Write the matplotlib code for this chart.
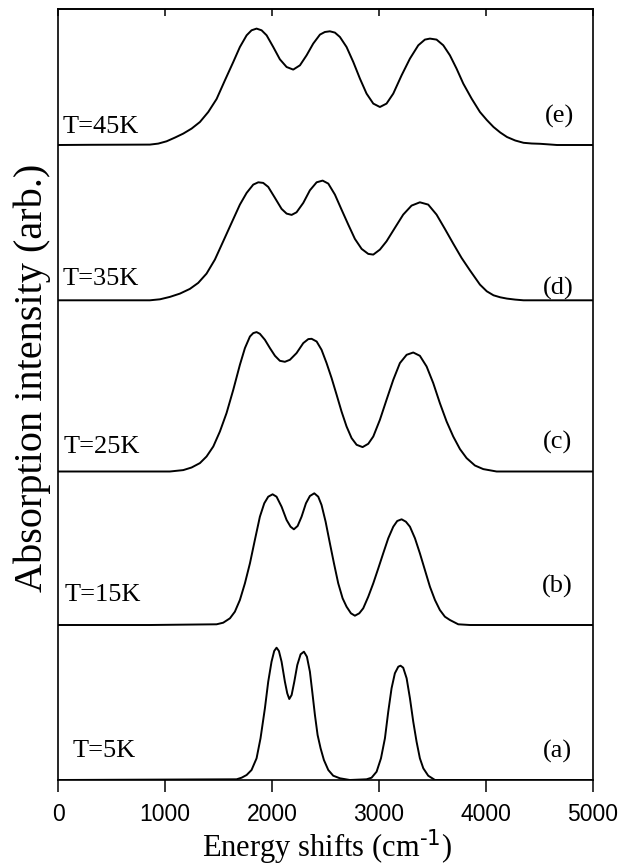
import matplotlib
matplotlib.use("Agg")
import matplotlib.pyplot as plt

# ---- data (x: cm^-1, y: arbitrary intensity) ----
x_a = [0, 1669, 1716, 1763, 1809, 1856, 1893, 1934, 1965, 1996, 2021, 2043, 2065,
       2090, 2121, 2143, 2162, 2184, 2209, 2237, 2268, 2299, 2327, 2355, 2377,
       2402, 2427, 2455, 2486, 2527, 2573, 2636, 2729, 2885, 2932, 2979, 3020,
       3057, 3088, 3119, 3150, 3182, 3203, 3228, 3260, 3291, 3322, 3353, 3384,
       3416, 3462, 3525, 5000]
y_a = [0, 0.7, 2.3, 5, 10, 21.7, 41.7, 71.7, 98.3, 118.3, 129, 132.3, 129,
       118.3, 98.3, 86.7, 81, 85, 98.3, 115, 125.7, 128.3, 123.3, 108.3, 88.3,
       65, 45, 31.7, 20, 10, 4.3, 1.7, 0, 0.7, 2.3, 8.3, 21.7,
       41.7, 68.3, 91.7, 106.7, 113.3, 114.3, 112.3, 101.7, 81.7, 58.3, 38.3, 21.7,
       11.7, 4.3, 0, 0]

x_b = [0, 858, 1482, 1544, 1607, 1653, 1700, 1747, 1794, 1840, 1887, 1928, 1965,
       2006, 2043, 2090, 2137, 2174, 2205, 2240, 2277, 2318, 2355, 2396, 2433,
       2464, 2502, 2542, 2580, 2620, 2661, 2698, 2739, 2776, 2817, 2854, 2901,
       2948, 2995, 3041, 3088, 3135, 3172, 3213, 3253, 3291, 3338, 3384, 3431,
       3478, 3525, 3571, 3618, 3665, 3743, 3852, 5000]
y_b = [0, 0, 0.7, 2.3, 6.7, 13.3, 25, 41.7, 61.7, 85, 108.3, 121.7, 128.3,
       130.7, 128.3, 118.3, 105, 98.3, 95.7, 99, 108.3, 121.7, 129, 131.7, 128.3,
       120, 103.3, 81.7, 61.7, 41.7, 26.7, 18.3, 11.7, 9.3, 11.7, 16.7, 28.3,
       41.7, 56.7, 71.7, 86.7, 98.3, 104, 105.7, 103.3, 98.3, 86.7, 71.7, 55,
       38.3, 25, 15, 8.3, 5, 0.7, 0, 0]

x_c = [0, 858, 1045, 1170, 1248, 1326, 1388, 1451, 1513, 1575, 1638, 1700, 1747,
       1794, 1825, 1856, 1887, 1934, 1981, 2028, 2074, 2121, 2168, 2230, 2293,
       2340, 2371, 2418, 2464, 2511, 2558, 2605, 2651, 2698, 2745, 2792, 2848,
       2901, 2948, 3010, 3072, 3135, 3197, 3260, 3322, 3384, 3447, 3509, 3571,
       3634, 3696, 3759, 3821, 3899, 3977, 4102, 5000]
y_c = [0, 0, 0, 1.4, 4, 8.4, 15, 25, 40, 58.4, 81.7, 106.7, 123.4,
       135, 138.4, 139.4, 137.7, 131.7, 123.4, 115.7, 110.7, 109.7, 111.7, 118.4, 128.4,
       132.4, 132.7, 130, 121.7, 108.4, 93.4, 76.7, 60, 45, 33.4, 26.7, 24.4,
       27.7, 35, 51.7, 71.7, 91.7, 108.4, 116.7, 119, 115.7, 105, 88.4, 68.4,
       50, 35, 22.4, 13.4, 6, 2.4, 0, 0]

x_d = [0, 858, 952, 1045, 1139, 1232, 1310, 1388, 1466, 1544, 1622, 1700, 1763,
       1825, 1872, 1918, 1965, 2028, 2090, 2137, 2184, 2230, 2293, 2355, 2418,
       2474, 2527, 2589, 2651, 2714, 2776, 2839, 2901, 2948, 3010, 3072, 3150,
       3228, 3306, 3384, 3462, 3540, 3618, 3696, 3774, 3852, 3946, 4010, 4073,
       4136, 4199, 4276, 4354, 5000]
y_d = [0, 0, 1, 3.4, 6.7, 11.4, 17.4, 26.7, 40.7, 59, 77.4, 95.7, 107.4,
       115.7, 118, 117.4, 113.4, 102.4, 91.4, 86.7, 85.4, 88, 97.4, 110, 118,
       119.7, 116.7, 105.7, 90.7, 75.7, 61.4, 51.4, 46.4, 45.7, 50.7, 59, 72.4,
       85.7, 94.7, 98, 95.7, 85.7, 71.4, 56.7, 42.4, 30, 15.7, 9, 5,
       3, 1.7, 0.7, 0, 0]

x_e = [0, 300, 600, 858, 936, 1014, 1092, 1170, 1248, 1326, 1404, 1482, 1560,
       1638, 1700, 1763, 1809, 1856, 1903, 1950, 2012, 2074, 2137, 2199, 2262,
       2324, 2386, 2449, 2495, 2542, 2589, 2636, 2698, 2761, 2823, 2885, 2948,
       3010, 3072, 3135, 3213, 3291, 3369, 3431, 3478, 3540, 3603, 3665, 3727,
       3790, 3868, 3946, 4010, 4073, 4136, 4199, 4276, 4354, 4430, 4510, 4590,
       4666, 5000]
y_e = [0, 0.2, 0.3, 0.4, 1.4, 3.7, 7.4, 11.4, 16.4, 23, 33, 46, 64.7,
       83, 98, 109.7, 114.7, 116.4, 114.7, 109.7, 98, 85.7, 78, 75.4, 79.7,
       89.7, 101.4, 110.4, 113, 113.7, 112.4, 108, 98, 83, 66.4, 51.4, 41.4,
       38, 41.4, 51.4, 69.7, 86.4, 99.7, 105.4, 106.4, 105.4, 99.7, 89.7, 76.4,
       61.4, 46.4, 33, 25, 18, 12.5, 8, 4.5, 2.2, 1.5, 1.2, 0.6,
       0, 0]

curves_x = [x_a, x_b, x_c, x_d, x_e]
curves_y = [y_a, y_b, y_c, y_d, y_e]
offsets = [0, 155, 308.5, 479.7, 635]
temps = ["T=5K", "T=15K", "T=25K", "T=35K", "T=45K"]
tags = ["(a)", "(b)", "(c)", "(d)", "(e)"]
xticks = [0, 1000, 2000, 3000, 4000, 5000]

# ---- styling / layout ----
W, H = 620, 867
fig = plt.figure(figsize=(W / 100, H / 100), dpi=100)
ax = fig.add_axes([58.2 / W, (H - 780) / H, (592.6 - 58.2) / W, (780 - 9.3) / H])

for xs, ys, off in zip(curves_x, curves_y, offsets):
    ax.plot(xs, [v + off for v in ys], color="black", lw=1.4,
            solid_joinstyle="round", solid_capstyle="round")

serif = "Liberation Serif"
temp_pos = [(130, 23), (60, 179), (48, 327), (45, 495), (45, 647)]
tag_pos = [(4667, 29), (4667, 194), (4667, 338), (4676, 492), (4686, 664)]
for t, (tx, ty) in zip(temps, temp_pos):
    ax.text(tx, ty, t, family=serif, fontsize=19, ha="left", va="baseline")
for t, (tx, ty) in zip(tags, tag_pos):
    ax.text(tx, ty, t, family=serif, fontsize=19, ha="center", va="center")

ax.set_xlim(0, 5000)
ax.set_ylim(0, 770.7)
ax.set_yticks([])
ax.set_xticks(xticks)
ax.set_xticklabels([str(v) for v in xticks], family="Liberation Sans", fontsize=16.5)
ax.tick_params(axis="x", direction="out", length=8.5, width=1.1, pad=8, top=False)
for s in ax.spines.values():
    s.set_linewidth(1.2)

sec = ax.secondary_xaxis("top")
sec.set_xticks(xticks)
sec.tick_params(direction="in", length=5, width=1.1, labeltop=False)
sec.spines["top"].set_linewidth(1.2)

plt.rcParams["mathtext.fontset"] = "custom"
plt.rcParams["mathtext.rm"] = serif
ax.set_xlabel(r"Energy shifts (cm$^{\text{-1}}$)", family=serif, fontsize=22)
ax.xaxis.set_label_coords(0.503, -0.062)
ax.set_ylabel("Absorption intensity (arb.)", family=serif, fontsize=29)
ax.yaxis.set_label_coords(-0.014, 0.522)

fig.savefig("out.png", dpi=100)
